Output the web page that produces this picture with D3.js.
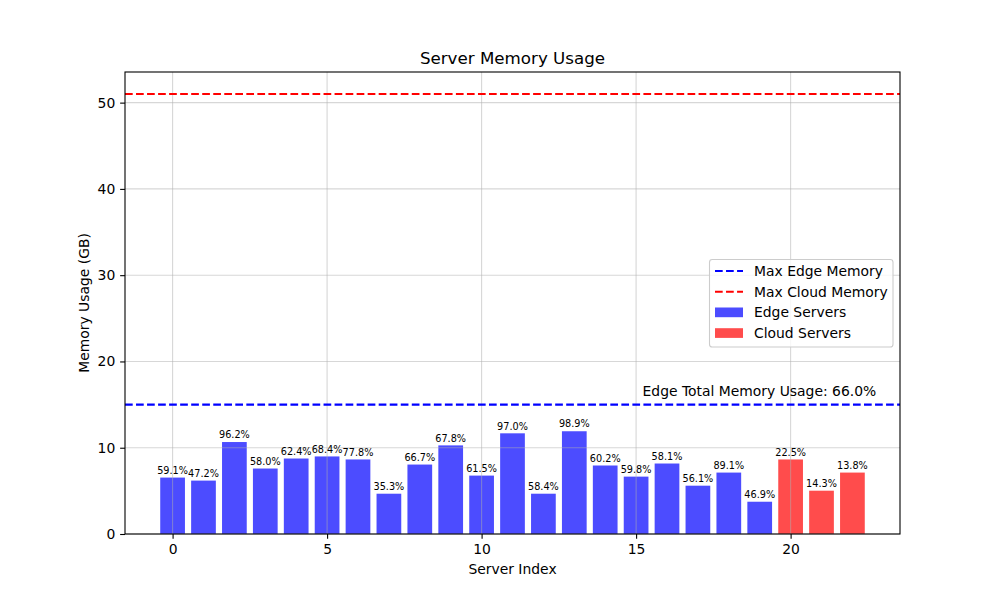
<!DOCTYPE html>
<html>
<head>
<meta charset="utf-8">
<script src="https://cdn.jsdelivr.net/npm/d3@7"></script>
<style>
  body { margin: 0; background: #fff; }
  svg { font-family: "DejaVu Sans", sans-serif; }
</style>
</head>
<body>
<svg id="chart" width="1000" height="600"></svg>
<script>
// ---- data ----
const serverIndex = [0,1,2,3,4,5,6,7,8,9,10,11,12,13,14,15,16,17,18,19,20,21,22];
const serverType = ["edge","edge","edge","edge","edge","edge","edge","edge","edge","edge",
                    "edge","edge","edge","edge","edge","edge","edge","edge","edge","edge",
                    "cloud","cloud","cloud"];
const memoryUsage = [6.54, 6.19, 10.66, 7.59, 8.75, 8.99, 8.64, 4.67, 8.05, 10.27,
                     6.77, 11.67, 4.67, 11.91, 7.94, 6.65, 8.17, 5.60, 7.12, 3.74,
                     8.64, 5.02, 7.12];
const usageLabels = ["59.1%","47.2%","96.2%","58.0%","62.4%","68.4%","77.8%","35.3%","66.7%","67.8%",
                     "61.5%","97.0%","58.4%","98.9%","60.2%","59.8%","58.1%","56.1%","89.1%","46.9%",
                     "22.5%","14.3%","13.8%"];
const maxEdgeMemory = 15;
const maxCloudMemory = 51;
const xTicks = [0, 5, 10, 15, 20];
const yTicks = [0, 10, 20, 30, 40, 50];
const annotationText = "Edge Total Memory Usage: 66.0%";
const legendItems = [
  {label: "Max Edge Memory", kind: "line", color: "#0000ff"},
  {label: "Max Cloud Memory", kind: "line", color: "#ff0000"},
  {label: "Edge Servers", kind: "patch", color: "#0000ff"},
  {label: "Cloud Servers", kind: "patch", color: "#ff0000"}
];

// ---- layout ----
const L = 125, R = 900, T = 72, B = 534;
const barW = 0.8;
const svg = d3.select("#chart");

const n = serverIndex.length;
const xMin = -barW/2, xMax = (n-1) + barW/2;
const xPad = (xMax - xMin) * 0.05;
const x = d3.scaleLinear().domain([xMin - xPad, xMax + xPad]).range([L, R]);
const yTop = maxCloudMemory * 1.05;
const y = d3.scaleLinear().domain([0, yTop]).range([B, T]);

const colorFor = t => t === "edge" ? "#0000ff" : "#ff0000";

// bars
svg.append("g").selectAll("rect").data(serverIndex).join("rect")
  .attr("x", i => x(i - barW/2))
  .attr("width", i => x(i + barW/2) - x(i - barW/2))
  .attr("y", i => y(memoryUsage[i]))
  .attr("height", i => y(0) - y(memoryUsage[i]))
  .attr("fill", i => colorFor(serverType[i]))
  .attr("fill-opacity", 0.7);

// grid
const grid = svg.append("g").attr("stroke", "#b0b0b0").attr("stroke-opacity", 0.5).attr("stroke-width", 1.1);
xTicks.forEach(t => grid.append("line").attr("x1", x(t)).attr("x2", x(t)).attr("y1", T).attr("y2", B));
yTicks.forEach(t => grid.append("line").attr("x1", L).attr("x2", R).attr("y1", y(t)).attr("y2", y(t)));

// bar labels
svg.append("g").selectAll("text").data(serverIndex).join("text")
  .attr("x", i => x(i))
  .attr("y", i => y(memoryUsage[i]) - 3.8)
  .attr("text-anchor", "middle")
  .attr("font-size", "9.7px")
  .attr("fill", "#000")
  .text(i => usageLabels[i]);

// horizontal dashed lines
[[maxEdgeMemory, "#0000ff"], [maxCloudMemory, "#ff0000"]].forEach(([v, c]) => {
  svg.append("line")
    .attr("x1", L).attr("x2", R).attr("y1", y(v)).attr("y2", y(v))
    .attr("stroke", c).attr("stroke-width", 2.08)
    .attr("stroke-dasharray", "7.7,3.33");
});

// annotation
svg.append("text")
  .attr("x", x(22.77)).attr("y", y(maxEdgeMemory) - 8.4)
  .attr("text-anchor", "end").attr("font-size", "13.9px").attr("fill", "#000")
  .text(annotationText);

// axes
const xAxis = d3.axisBottom(x).tickValues(xTicks).tickSize(4.86).tickPadding(4.86).tickFormat(d3.format("d"));
const yAxis = d3.axisLeft(y).tickValues(yTicks).tickSize(4.86).tickPadding(4.86).tickFormat(d3.format("d"));
const gx = svg.append("g").attr("transform", `translate(0,${B})`).call(xAxis);
const gy = svg.append("g").attr("transform", `translate(${L},0)`).call(yAxis);
[gx, gy].forEach(g => {
  g.select(".domain").remove();
  g.selectAll(".tick line").attr("stroke", "#000").attr("stroke-width", 1.1);
  g.selectAll(".tick text").attr("font-size", "13.9px").attr("fill", "#000").attr("font-family", "DejaVu Sans, sans-serif");
});

// spines
svg.append("rect").attr("x", L).attr("y", T).attr("width", R - L).attr("height", B - T)
  .attr("fill", "none").attr("stroke", "#000").attr("stroke-width", 1.1);

// titles
svg.append("text").attr("x", (L+R)/2).attr("y", 63.7).attr("text-anchor", "middle")
  .attr("font-size", "16.7px").attr("fill", "#000").text("Server Memory Usage");
svg.append("text").attr("x", (L+R)/2).attr("y", 574).attr("text-anchor", "middle")
  .attr("font-size", "13.9px").attr("fill", "#000").text("Server Index");
svg.append("text").attr("transform", `translate(89,${(T+B)/2}) rotate(-90)`).attr("text-anchor", "middle")
  .attr("font-size", "13.9px").attr("fill", "#000").text("Memory Usage (GB)");

// legend
const lg = svg.append("g");
lg.append("rect").attr("x", 709.5).attr("y", 259.5).attr("width", 183.5).attr("height", 87.5)
  .attr("rx", 2.8).attr("fill", "#fff").attr("fill-opacity", 0.8)
  .attr("stroke", "#cccccc").attr("stroke-width", 1.1);
legendItems.forEach((d, i) => {
  const cy = 271 + i * 20.7;
  if (d.kind === "line") {
    lg.append("line").attr("x1", 715).attr("x2", 743).attr("y1", cy).attr("y2", cy)
      .attr("stroke", d.color).attr("stroke-width", 2.08).attr("stroke-dasharray", "7.7,3.33");
  } else {
    lg.append("rect").attr("x", 715).attr("y", cy - 4.9).attr("width", 28).attr("height", 9.7)
      .attr("fill", d.color).attr("fill-opacity", 0.7);
  }
  lg.append("text").attr("x", 754).attr("y", cy + 5).attr("font-size", "13.9px").attr("fill", "#000").text(d.label);
});
</script>
</body>
</html>
